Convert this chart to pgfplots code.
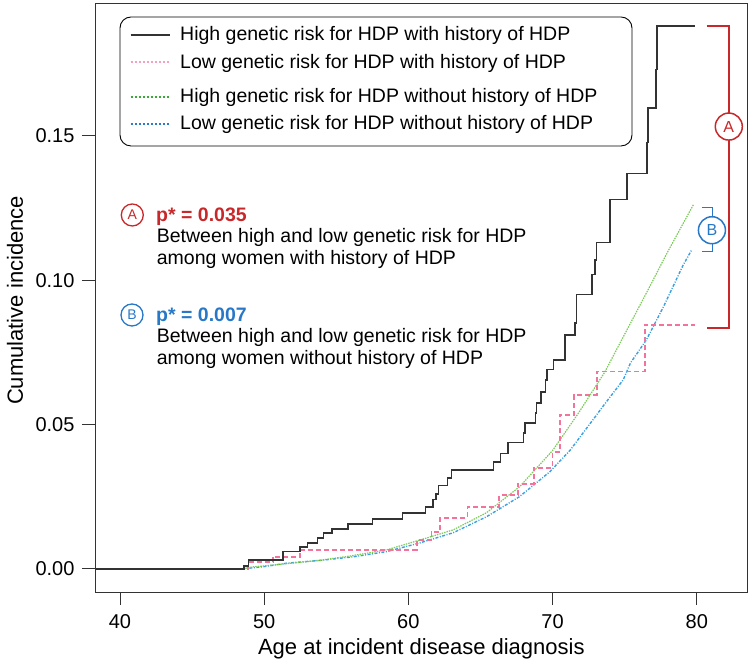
\documentclass[border=0pt]{standalone}
\usepackage{fontspec}
\setmainfont{Liberation Sans}
\usepackage{pgfplots}
\pgfplotsset{compat=1.18}
\definecolor{cblack}{HTML}{333333}
\definecolor{cpink}{HTML}{F4739A}
\definecolor{cpinkL}{HTML}{F7A0BC}
\definecolor{cgreen}{HTML}{7CCB5A}
\definecolor{cgreenL}{HTML}{3DA83A}
\definecolor{cblue}{HTML}{3AA0E0}
\definecolor{cblueL}{HTML}{2A7AD0}
\definecolor{cred}{HTML}{C8282A}
\definecolor{cbl}{HTML}{2878C8}
\begin{document}
\begin{tikzpicture}
\path[use as bounding box] (-95pt,-68pt) rectangle (655pt,592pt);
\begin{axis}[
  at={(0pt,0pt)}, anchor=south west,
  scale only axis, width=652.7pt, height=589pt,
  xmin=38.27, xmax=83.53, ymin=-0.008, ymax=0.196,
  xtick={40,50,60,70,80}, ytick={0,0.05,0.10,0.15},
  /pgf/number format/assume math mode=true,
  tick align=outside, tick pos=left, major tick length=13pt,
  tick style={line width=0.8pt, black!80},
  axis line style={line width=0.8pt, black!80},
  ticklabel style={font=\fontsize{20}{23}\selectfont},
  xticklabel style={yshift=-6pt},
  yticklabel style={xshift=-4pt, /pgf/number format/.cd, fixed, fixed zerofill, precision=2},
  xlabel={Age at incident disease diagnosis},
  ylabel={Cumulative incidence},
  label style={font=\fontsize{22}{25}\selectfont},
  xlabel style={at={(axis description cs:0.5,-0.097)}, anchor=center},
  ylabel style={at={(axis description cs:-0.1226,0.495)}, anchor=center},
]
% low risk without history (blue)
\addplot[cblue, line width=1.4pt, dash pattern=on 3pt off 1.5pt on 1pt off 1.5pt] coordinates {
(38.3,0) (48.5,0) (50.0,0.0008) (51.6,0.0020) (54.0,0.0030) (56.2,0.0042) (58.5,0.0060) (60.8,0.0090) (63.1,0.0125) (65.4,0.0180) (67.7,0.0250) (69.8,0.0336) (71.2,0.0410) (72.4,0.0490) (73.6,0.0570) (74.9,0.0655) (75.4,0.0713) (76.5,0.0793) (77.7,0.0909) (79.06,0.1053) (79.65,0.1105)};
% high risk without history (green)
\addplot[cgreen, line width=1.2pt, dash pattern=on 1.5pt off 1pt] coordinates {
(38.3,0) (48.5,0) (49.2,0.0007) (51.0,0.0015) (53.9,0.0030) (56.0,0.0045) (58.5,0.0066) (60.8,0.0100) (63.1,0.0135) (65.4,0.0194) (67.7,0.0284) (70.0,0.0410) (71.8,0.0540) (73.6,0.0680) (75.0,0.0813) (76.5,0.0955) (78.0,0.1100) (79.76,0.1261)};
% low risk with history (pink)
\addplot[cpink, line width=1.6pt, dash pattern=on 5pt off 3pt, const plot] coordinates {
(38.3,0) (48.9,0.0024) (50.6,0.0042) (52.5,0.0066) (60.6,0.0100) (61.6,0.0128) (62.2,0.0177) (64.1,0.0215) (66.3,0.0256) (67.6,0.0295) (68.7,0.0350) (70.0,0.0405) (70.5,0.0534) (71.5,0.0603) (73.08,0.0684) (76.4,0.0845) (79.9,0.0845)};
% high risk with history (black)
\addplot[cblack, line width=1.5pt, const plot] coordinates {
(38.3,0) (48.6,0.0010) (48.9,0.0030) (51.3,0.0060) (52.5,0.0076) (53.0,0.0090) (53.7,0.0107) (54.1,0.0125) (54.7,0.0139) (55.8,0.0156) (57.5,0.0173) (59.6,0.0194) (61.2,0.0215) (61.7,0.0240) (61.9,0.0260) (62.1,0.0288) (62.7,0.0315) (63.0,0.0343) (65.9,0.0370) (66.4,0.0400) (66.9,0.0437) (68.0,0.0470) (68.1,0.0506) (68.8,0.0540) (68.9,0.0575) (69.2,0.0613) (69.5,0.0655) (69.6,0.0690) (70.05,0.0724) (70.86,0.0810) (71.55,0.0852) (71.65,0.0950) (72.73,0.1020) (72.95,0.1070) (73.05,0.1130) (73.98,0.1279) (75.16,0.1369) (76.55,0.1476) (76.62,0.1597) (77.17,0.1730) (77.24,0.1880) (79.88,0.1880)};

% brackets
\draw[cred, line width=1.6pt] (axis cs:80.69,0.188) -- (axis cs:82.24,0.188) -- (axis cs:82.24,0.0835) -- (axis cs:80.69,0.0835);
\node[circle, draw=cred, fill=white, line width=1.5pt, minimum size=27pt, inner sep=0pt, text=cred, font=\fontsize{16}{16}\selectfont] at (axis cs:82.22,0.1532) {A};
\draw[cbl, line width=1.6pt] (axis cs:80.33,0.1251) -- (axis cs:81.08,0.1251) -- (axis cs:81.08,0.1099) -- (axis cs:80.33,0.1099);
\node[circle, draw=cbl, fill=white, line width=1.5pt, minimum size=27pt, inner sep=0pt, text=cbl, font=\fontsize{16}{16}\selectfont] at (axis cs:81.05,0.1173) {B};
\end{axis}
% legend (pt = px offsets from axis lower-left corner)
\draw[black, line width=0.9pt, rounded corners=11pt, fill=white] (25pt,446pt) rectangle (537pt,575pt);
\draw[cblack, line width=1.8pt] (35.7pt,557pt) -- (75pt,557pt);
\node[anchor=base west, inner sep=0pt, font=\fontsize{19.5}{22}\selectfont] at (85pt,551pt) {High genetic risk for HDP with history of HDP};
\draw[cpinkL, line width=1.8pt, dash pattern=on 2pt off 2pt] (35.7pt,529.7pt) -- (75pt,529.7pt);
\node[anchor=base west, inner sep=0pt, font=\fontsize{19.5}{22}\selectfont] at (85pt,523.7pt) {Low genetic risk for HDP with history of HDP};
\draw[cgreenL, line width=1.8pt, dash pattern=on 2pt off 2pt] (35.7pt,495.3pt) -- (75pt,495.3pt);
\node[anchor=base west, inner sep=0pt, font=\fontsize{19.5}{22}\selectfont] at (85pt,489.3pt) {High genetic risk for HDP without history of HDP};
\draw[cblueL, line width=1.8pt, dash pattern=on 2pt off 2pt] (35.7pt,468pt) -- (75pt,468pt);
\node[anchor=base west, inner sep=0pt, font=\fontsize{19.5}{22}\selectfont] at (85pt,462pt) {Low genetic risk for HDP without history of HDP};
% annotations
\node[circle, draw=cred, line width=1.3pt, minimum size=22pt, inner sep=0pt, text=cred, font=\fontsize{14}{14}\selectfont] at (37.3pt,377pt) {A};
\node[anchor=base west, inner sep=0pt, text=cred, font=\fontsize{19.5}{22}\selectfont\bfseries] at (61pt,370.3pt) {p* = 0.035};
\node[anchor=base west, inner sep=0pt, font=\fontsize{19.5}{22}\selectfont] at (61.7pt,349pt) {Between high and low genetic risk for HDP};
\node[anchor=base west, inner sep=0pt, font=\fontsize{19.5}{22}\selectfont] at (61.7pt,327pt) {among women with history of HDP};
\node[circle, draw=cbl, line width=1.3pt, minimum size=22pt, inner sep=0pt, text=cbl, font=\fontsize{14}{14}\selectfont] at (37pt,277pt) {B};
\node[anchor=base west, inner sep=0pt, text=cbl, font=\fontsize{19.5}{22}\selectfont\bfseries] at (61pt,270.3pt) {p* = 0.007};
\node[anchor=base west, inner sep=0pt, font=\fontsize{19.5}{22}\selectfont] at (61.7pt,249pt) {Between high and low genetic risk for HDP};
\node[anchor=base west, inner sep=0pt, font=\fontsize{19.5}{22}\selectfont] at (61.7pt,227pt) {among women without history of HDP};
\end{tikzpicture}
\end{document}
